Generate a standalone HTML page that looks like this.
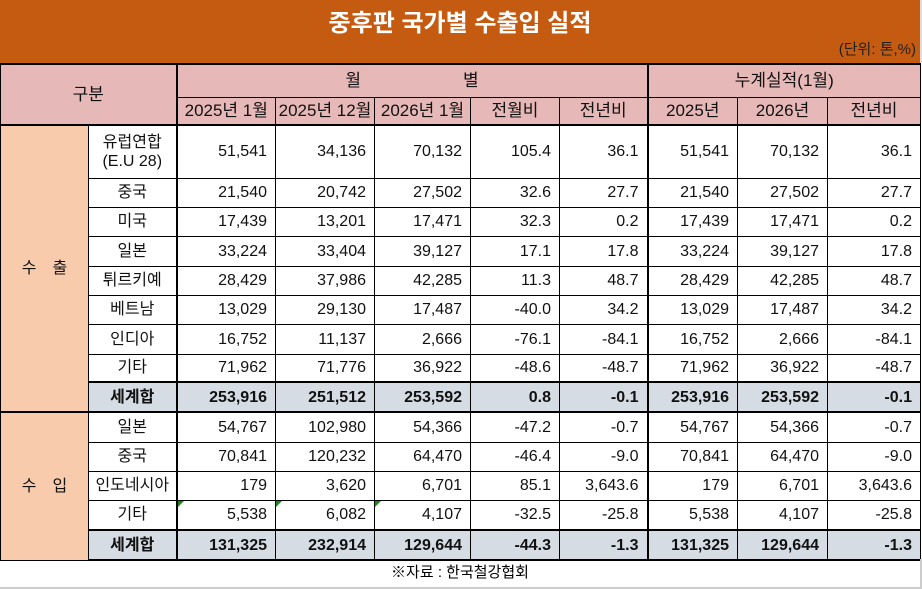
<!DOCTYPE html>
<html><head><meta charset="utf-8"><style>
body{margin:0;width:922px;height:589px;background:#fff;font-family:"Liberation Sans","Noto Sans CJK KR",sans-serif;overflow:hidden;position:relative}
.title{position:absolute;left:0;top:0;width:920px;height:63px;background:#C55A11;border-right:2px solid #ddd}
.title h1{margin:0;position:absolute;top:3px;width:100%;text-align:center;color:#fff;font-size:24px;font-weight:bold}
.title .u{position:absolute;right:4px;top:38px;font-size:15px;color:#222}
table{position:absolute;left:0;top:63px;border-collapse:collapse;table-layout:fixed;font-size:16px;color:#111}
td{border:1px solid #000;padding:0 8px 0 0;text-align:right;white-space:nowrap;overflow:hidden;line-height:19px}
td.c{text-align:center;padding:0}
.h td{background:#E6B8B7;text-align:center;padding:0;font-size:17px}
.peach{background:#F8CBAD}
.tot td{background:#D6DCE4;font-weight:bold}
.tk{border-top:2px solid #000}
.lt{border-left:2px solid #000}
.foot{position:absolute;left:0;top:559px;width:920px;height:28px;border-bottom:2px solid #ccc;border-right:2px solid #ccc;text-align:center;font-size:15px;line-height:28px}
.g{position:relative}
.g:before{content:"";position:absolute;left:0;top:0;border-top:6px solid #1a8a1a;border-right:6px solid transparent}
</style></head><body>
<div class="title"><h1>중후판 국가별 수출입 실적</h1><div class="u">(단위: 톤,%)</div></div>
<table>
<colgroup><col style="width:88px"><col style="width:88px"><col style="width:99px"><col style="width:99px"><col style="width:96px"><col style="width:89px"><col style="width:88px"><col style="width:90px"><col style="width:90px"><col style="width:93px"></colgroup>
<tr class="h" style="height:33px"><td colspan="2" rowspan="2" class="tk" style="border-top:2px solid #000">구분</td><td colspan="5" class="tk lt">월　　　　　　별</td><td colspan="3" class="tk lt">누계실적(1월)</td></tr>
<tr class="h" style="height:28px"><td class="lt">2025년 1월</td><td>2025년 12월</td><td>2026년 1월</td><td>전월비</td><td>전년비</td><td class="lt">2025년</td><td>2026년</td><td>전년비</td></tr>
<tr style="height:53px" class="tk"><td rowspan="9" class="c peach tk">수　출</td><td class="c tk">유럽연합<br>(E.U 28)</td><td class="tk lt">51,541</td><td class="tk">34,136</td><td class="tk">70,132</td><td class="tk">105.4</td><td class="tk">36.1</td><td class="tk lt">51,541</td><td class="tk">70,132</td><td class="tk">36.1</td></tr>
<tr style="height:29px"><td class="c">중국</td><td class="lt">21,540</td><td>20,742</td><td>27,502</td><td>32.6</td><td>27.7</td><td class="lt">21,540</td><td>27,502</td><td>27.7</td></tr>
<tr style="height:29px"><td class="c">미국</td><td class="lt">17,439</td><td>13,201</td><td>17,471</td><td>32.3</td><td>0.2</td><td class="lt">17,439</td><td>17,471</td><td>0.2</td></tr>
<tr style="height:30px"><td class="c">일본</td><td class="lt">33,224</td><td>33,404</td><td>39,127</td><td>17.1</td><td>17.8</td><td class="lt">33,224</td><td>39,127</td><td>17.8</td></tr>
<tr style="height:29px"><td class="c">튀르키예</td><td class="lt">28,429</td><td>37,986</td><td>42,285</td><td>11.3</td><td>48.7</td><td class="lt">28,429</td><td>42,285</td><td>48.7</td></tr>
<tr style="height:29px"><td class="c">베트남</td><td class="lt">13,029</td><td>29,130</td><td>17,487</td><td>-40.0</td><td>34.2</td><td class="lt">13,029</td><td>17,487</td><td>34.2</td></tr>
<tr style="height:30px"><td class="c">인디아</td><td class="lt">16,752</td><td>11,137</td><td>2,666</td><td>-76.1</td><td>-84.1</td><td class="lt">16,752</td><td>2,666</td><td>-84.1</td></tr>
<tr style="height:28px"><td class="c">기타</td><td class="lt">71,962</td><td>71,776</td><td>36,922</td><td>-48.6</td><td>-48.7</td><td class="lt">71,962</td><td>36,922</td><td>-48.7</td></tr>
<tr style="height:30px" class="tot"><td class="c" style="border-top:2px solid #000">세계합</td><td class="lt" style="border-top:2px solid #000">253,916</td><td style="border-top:2px solid #000">251,512</td><td style="border-top:2px solid #000">253,592</td><td style="border-top:2px solid #000">0.8</td><td style="border-top:2px solid #000">-0.1</td><td class="lt" style="border-top:2px solid #000">253,916</td><td style="border-top:2px solid #000">253,592</td><td style="border-top:2px solid #000">-0.1</td></tr>
<tr style="height:30px"><td rowspan="5" class="c peach tk">수　입</td><td class="c tk">일본</td><td class="tk lt">54,767</td><td class="tk">102,980</td><td class="tk">54,366</td><td class="tk">-47.2</td><td class="tk">-0.7</td><td class="tk lt">54,767</td><td class="tk">54,366</td><td class="tk">-0.7</td></tr>
<tr style="height:29px"><td class="c">중국</td><td class="lt">70,841</td><td>120,232</td><td>64,470</td><td>-46.4</td><td>-9.0</td><td class="lt">70,841</td><td>64,470</td><td>-9.0</td></tr>
<tr style="height:29px"><td class="c">인도네시아</td><td class="lt">179</td><td>3,620</td><td>6,701</td><td>85.1</td><td>3,643.6</td><td class="lt">179</td><td>6,701</td><td>3,643.6</td></tr>
<tr style="height:30px"><td class="c">기타</td><td class="lt g">5,538</td><td class="g">6,082</td><td class="g">4,107</td><td>-32.5</td><td>-25.8</td><td class="lt">5,538</td><td>4,107</td><td>-25.8</td></tr>
<tr style="height:30px" class="tot"><td class="c" style="border-top:2px solid #000;border-bottom:2px solid #000">세계합</td><td class="lt" style="border-top:2px solid #000;border-bottom:2px solid #000">131,325</td><td style="border-top:2px solid #000;border-bottom:2px solid #000">232,914</td><td style="border-top:2px solid #000;border-bottom:2px solid #000">129,644</td><td style="border-top:2px solid #000;border-bottom:2px solid #000">-44.3</td><td style="border-top:2px solid #000;border-bottom:2px solid #000">-1.3</td><td class="lt" style="border-top:2px solid #000;border-bottom:2px solid #000">131,325</td><td style="border-top:2px solid #000;border-bottom:2px solid #000">129,644</td><td style="border-top:2px solid #000;border-bottom:2px solid #000">-1.3</td></tr>
</table>
<div class="foot">※자료 : 한국철강협회</div>
</body></html>
